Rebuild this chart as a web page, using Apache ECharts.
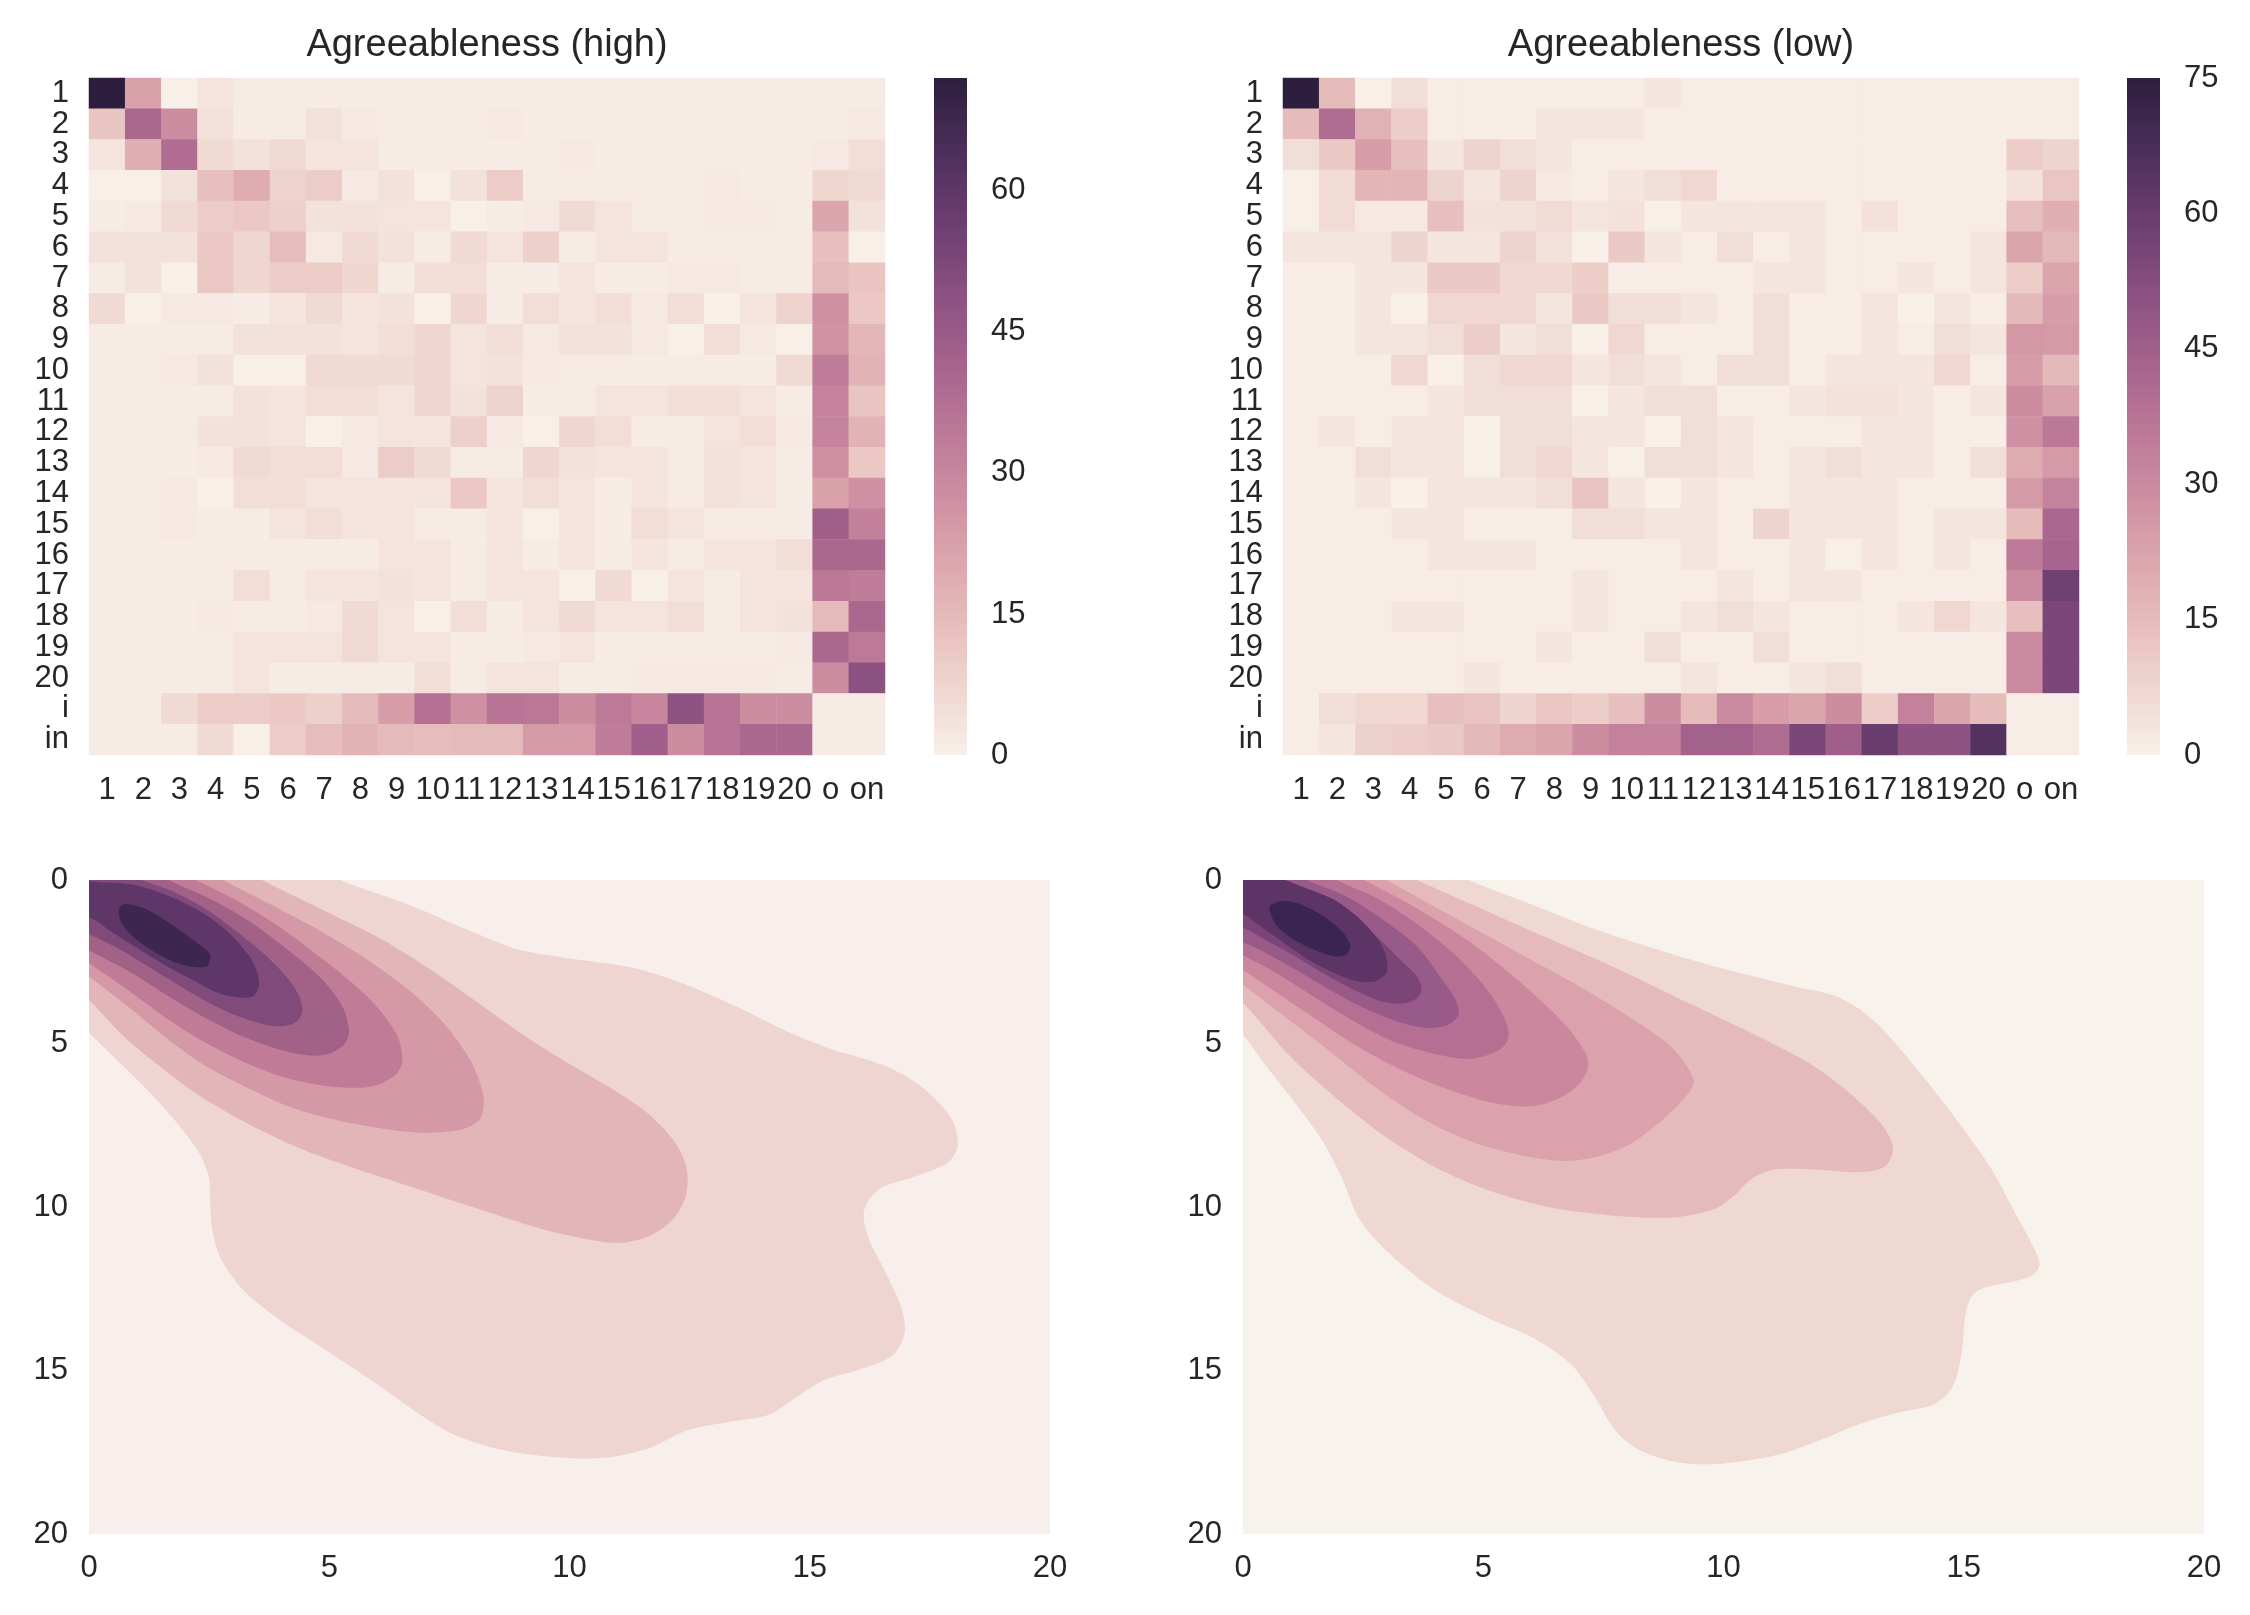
<!DOCTYPE html>
<html><head><meta charset="utf-8">
<script src="https://cdn.jsdelivr.net/npm/echarts@6/dist/echarts.min.js"></script>
<style>html,body{margin:0;padding:0;background:#fff}#c{width:2250px;height:1615px}</style>
</head><body><div id="c"></div>
<script>
// ---------- data ----------
const rowLabels = ['1','2','3','4','5','6','7','8','9','10','11','12','13','14','15','16','17','18','19','20','i','in'];
const colLabels = ['1','2','3','4','5','6','7','8','9','10','11','12','13','14','15','16','17','18','19','20','o','on'];
const titles = ['Agreeableness (high)', 'Agreeableness (low)'];

const highValues = [
 [72,22,0,3,1,1,1,1,1,1,1,1,1,1,1,1,1,1,1,1,1,1],
 [12,40,28,4,1,1,4,2,1,1,1,2,1,1,1,1,1,1,1,1,1,2],
 [3,18,38,6,4,6,3,3,1,1,1,1,1,2,1,1,1,1,1,1,2,5],
 [0,0,4,13,19,8,10,2,4,0,4,10,1,1,1,1,1,2,1,1,7,6],
 [1,2,6,10,11,9,4,4,3,3,0,1,2,6,3,1,1,2,2,1,21,4],
 [4,4,4,11,7,14,2,6,4,1,6,3,9,1,3,3,1,1,1,1,13,0],
 [1,4,0,11,7,10,10,7,1,5,5,1,1,3,1,1,2,2,1,1,15,12],
 [6,0,2,2,1,3,6,3,4,0,7,1,5,3,5,2,5,0,3,8,27,11],
 [1,1,1,1,4,4,4,3,5,7,3,5,2,4,4,2,0,5,2,0,26,16],
 [1,1,2,4,0,0,6,6,6,7,3,4,2,1,1,1,1,1,1,6,33,17],
 [1,1,1,1,4,3,5,5,3,7,4,8,1,1,3,3,5,5,3,1,31,12],
 [1,1,1,4,4,3,0,2,3,3,9,2,0,7,5,1,1,3,5,2,31,17],
 [1,1,1,2,6,5,5,2,10,6,1,1,7,4,3,3,1,4,3,1,27,11],
 [1,1,2,0,5,5,3,3,3,3,11,3,5,3,1,3,1,4,3,1,22,27],
 [1,1,2,1,1,3,5,3,3,1,1,3,0,3,1,5,3,1,1,1,43,32],
 [1,1,1,1,1,1,1,1,3,3,1,3,1,3,1,3,1,3,3,5,40,40],
 [1,1,1,1,5,1,3,3,4,3,1,3,3,0,6,0,3,1,3,3,35,33],
 [1,1,1,2,1,1,2,6,3,0,5,1,3,6,3,3,5,1,3,4,15,40],
 [1,1,1,1,3,3,3,6,3,3,1,1,2,3,1,1,1,1,1,2,40,34],
 [1,1,1,1,3,1,1,1,1,5,1,3,3,1,1,2,2,2,2,1,28,49],
 [1,1,6,10,10,11,9,15,23,37,27,36,35,28,34,30,48,36,28,28,1,1],
 [1,1,1,6,0,10,14,17,15,14,15,15,24,24,33,43,28,36,40,40,1,1]
];
const lowValues = [
 [75,15,0,5,1,1,1,1,1,1,3,1,1,1,1,1,1,1,1,1,1,1],
 [15,40,18,10,1,1,1,3,3,3,1,1,1,1,1,1,1,1,1,1,1,1],
 [5,11,24,14,3,8,5,3,1,1,1,1,1,1,1,1,1,1,1,1,10,8],
 [0,6,17,17,8,3,8,2,1,3,5,7,1,1,1,1,1,1,1,1,4,12],
 [0,6,2,2,14,4,4,6,3,4,0,3,3,3,3,1,4,1,1,1,14,19],
 [3,3,3,8,3,3,8,4,0,11,3,1,5,1,3,1,1,1,1,3,22,16],
 [1,1,3,3,11,11,7,7,10,1,1,1,1,3,3,1,1,3,1,3,10,22],
 [1,1,3,0,7,7,7,3,11,5,5,3,1,5,1,1,3,0,3,1,16,24],
 [1,1,3,3,5,10,3,5,0,7,1,1,1,5,1,1,3,1,5,3,26,25],
 [1,1,1,7,0,5,7,7,3,5,3,1,5,5,1,3,3,3,7,1,24,16],
 [1,1,1,1,3,5,5,5,0,3,5,5,1,1,3,4,4,3,1,3,29,23],
 [1,3,1,3,3,0,5,5,3,3,0,5,3,1,1,1,3,3,1,1,28,36],
 [1,1,5,3,3,0,5,7,3,0,5,5,3,1,3,5,3,3,1,5,20,25],
 [1,1,3,0,3,3,3,5,13,3,0,3,1,1,3,3,3,1,1,1,25,32],
 [1,1,1,3,3,1,1,1,5,5,3,3,1,8,3,3,3,1,3,3,15,42],
 [1,1,1,1,3,3,3,1,1,1,1,3,1,1,3,0,3,1,3,1,35,43],
 [1,1,1,1,1,1,1,1,3,1,1,1,3,1,3,3,1,1,1,1,30,58],
 [1,1,1,3,3,1,1,1,3,1,1,3,5,3,1,1,1,3,7,3,14,55],
 [1,1,1,1,1,1,1,3,1,1,5,1,1,5,1,1,1,1,1,1,30,55],
 [1,1,1,1,1,3,1,1,1,1,1,3,1,1,3,5,1,1,1,1,30,55],
 [1,5,7,7,14,13,8,12,10,14,29,15,30,24,22,29,10,33,22,15,1,1],
 [1,3,9,10,11,16,20,22,29,33,33,44,44,40,55,45,60,50,50,65,1,1]
];
const highMax = 72;
const lowMax = 75;
const colorbarStep = 15;
const kdeTicks = { min: 0, max: 20, step: 5 };

// KDE filled contour polygons (data coordinates, x right, y down), outermost first
const kdeHighContours = [
 [[-1,-1],[4.6,-0.5],[5.22,0],[6.58,0.71],[7.88,1.52],[8.92,2.12],[9.96,2.39],[11.26,2.66],[12.3,3.13],[13.47,3.87],[14.5,4.61],[15.42,5.15],[16.58,5.69],[17.36,6.36],[17.95,7.3],[18.08,8.1],[17.88,8.64],[17.23,9.05],[16.45,9.45],[16.13,10.12],[16.22,10.93],[16.58,12.0],[16.91,13.08],[16.97,13.88],[16.71,14.56],[16.06,14.96],[15.29,15.3],[14.64,15.9],[14.12,16.37],[13.34,16.57],[12.43,16.84],[11.65,17.38],[10.74,17.67],[9.7,17.65],[8.66,17.45],[7.62,16.98],[6.84,16.3],[5.94,15.36],[4.9,14.35],[3.99,13.48],[3.21,12.54],[2.75,11.6],[2.56,10.66],[2.52,9.72],[2.49,9.05],[2.3,8.37],[1.91,7.57],[1.26,6.49],[0.61,5.55],[0,4.68],[-0.6,3.9]],
 [[-1,-1],[3.0,-0.5],[3.6,0],[4.77,0.85],[6.06,1.79],[7.1,2.73],[8.14,3.8],[9.18,4.88],[10.22,5.82],[11.0,6.49],[11.65,7.16],[12.17,7.97],[12.43,8.78],[12.43,9.62],[12.17,10.35],[11.65,10.9],[11.0,11.1],[10.35,10.98],[9.44,10.68],[8.4,10.2],[7.36,9.7],[6.32,9.2],[5.29,8.7],[4.25,8.12],[3.21,7.38],[2.3,6.6],[1.52,5.75],[0.74,4.81],[0,3.67],[-0.6,2.9]],
 [[-1,-1],[2.2,-0.5],[2.79,0],[3.73,0.71],[4.77,1.52],[5.68,2.33],[6.58,3.27],[7.36,4.34],[7.95,5.55],[8.21,6.63],[8.14,7.3],[7.75,7.63],[6.97,7.73],[6.06,7.59],[5.03,7.3],[4.12,6.9],[3.21,6.29],[2.43,5.69],[1.65,4.88],[0.87,3.94],[0,2.95],[-0.6,2.3]],
 [[-1,-1],[1.6,-0.5],[2.22,0],[3.05,0.61],[3.95,1.42],[4.79,2.34],[5.48,3.15],[6.04,3.96],[6.42,4.78],[6.52,5.49],[6.42,5.89],[6.11,6.2],[5.69,6.35],[4.93,6.3],[4.09,6.05],[3.26,5.59],[2.43,4.98],[1.66,4.27],[0.9,3.46],[0,2.54],[-0.6,1.9]],
 [[-1,-1],[1.1,-0.5],[1.66,0],[2.57,0.61],[3.4,1.32],[4.23,2.24],[4.86,3.05],[5.27,3.86],[5.41,4.57],[5.34,4.98],[5.06,5.28],[4.65,5.37],[3.95,5.18],[3.19,4.78],[2.43,4.22],[1.66,3.56],[0.9,2.85],[0,2.15],[-0.6,1.6]],
 [[-1,-1],[0.6,-0.4],[1.11,0],[1.73,0.34],[2.43,0.89],[3.05,1.55],[3.61,2.22],[4.09,2.93],[4.37,3.54],[4.44,4.04],[4.3,4.35],[4.02,4.47],[3.61,4.4],[2.98,4.1],[2.36,3.65],[1.73,3.1],[1.18,2.6],[0.62,2.1],[0,1.65],[-0.6,1.2]],
 [[-0.6,0.1],[0.34,0.08],[0.97,0.16],[1.66,0.49],[2.36,1.0],[2.91,1.61],[3.33,2.32],[3.5,2.83],[3.54,3.23],[3.43,3.54],[3.19,3.6],[2.7,3.46],[2.15,3.05],[1.52,2.55],[0.97,2.05],[0.48,1.6],[0,1.15],[-0.6,1.1]],
 [[0.66,0.79],[0.83,0.74],[1.18,0.89],[1.66,1.3],[2.15,1.81],[2.5,2.22],[2.53,2.37],[2.46,2.62],[2.22,2.67],[1.8,2.52],[1.32,2.16],[0.9,1.71],[0.69,1.35],[0.62,1.05]]
];
const kdeLowContours = [
 [[-1,-1],[4.1,-0.5],[4.7,0],[5.94,0.71],[7.36,1.52],[8.92,2.26],[10.22,2.8],[11.52,3.27],[12.3,3.53],[12.82,3.94],[13.34,4.61],[14.12,5.95],[14.9,7.43],[15.55,8.78],[16.0,9.99],[16.39,11.06],[16.58,11.73],[16.45,12.07],[16.06,12.27],[15.42,12.47],[15.16,12.74],[15.03,13.35],[14.96,14.42],[14.77,15.5],[14.38,16.03],[13.6,16.3],[12.82,16.64],[12.04,17.11],[11.13,17.58],[9.96,17.85],[9.05,17.81],[8.27,17.45],[7.75,16.84],[7.36,15.9],[6.84,14.83],[6.06,14.02],[5.03,13.35],[3.99,12.54],[3.08,11.47],[2.43,10.39],[2.04,9.05],[1.65,7.97],[1.13,6.9],[0.48,5.69],[0,4.74],[-0.6,3.9]],
 [[-1,-1],[3.0,-0.5],[3.62,0],[4.77,0.75],[6.06,1.6],[7.62,2.6],[9.18,3.7],[10.61,4.7],[11.78,5.6],[12.69,6.6],[13.34,7.57],[13.53,8.24],[13.34,8.78],[12.82,8.94],[12.04,8.87],[11.13,8.84],[10.61,9.11],[10.22,9.65],[9.83,10.05],[8.92,10.32],[7.62,10.25],[6.32,9.99],[5.03,9.45],[3.99,8.78],[2.95,7.84],[1.91,6.63],[1.0,5.42],[0,3.75],[-0.6,3.0]],
 [[-1,-1],[2.4,-0.5],[2.99,0],[4.1,0.91],[5.49,2.03],[6.88,3.15],[8.13,4.27],[8.97,5.18],[9.38,6.1],[9.28,6.5],[8.9,7.11],[8.41,7.72],[7.99,8.13],[7.44,8.43],[6.74,8.59],[5.84,8.43],[4.8,8.03],[3.76,7.32],[2.72,6.3],[1.67,5.08],[0.77,4.07],[0,3.2],[-0.6,2.6]],
 [[-1,-1],[1.9,-0.5],[2.51,0],[3.55,0.81],[4.66,1.83],[5.63,2.95],[6.47,4.07],[6.95,4.88],[7.19,5.59],[7.02,6.2],[6.6,6.66],[6.05,6.91],[5.35,6.86],[4.45,6.5],[3.41,5.89],[2.37,5.08],[1.33,4.07],[0,2.75],[-0.6,2.2]],
 [[-1,-1],[1.4,-0.5],[1.95,0],[2.85,0.61],[3.69,1.42],[4.45,2.34],[5.08,3.35],[5.42,4.17],[5.53,4.67],[5.46,5.03],[5.22,5.28],[4.73,5.47],[4.04,5.34],[3.2,4.98],[2.37,4.37],[1.47,3.56],[0.63,2.79],[0,2.3],[-0.6,1.8]],
 [[-1,-1],[0.8,-0.5],[1.33,0],[2.16,0.51],[2.92,1.22],[3.62,2.03],[4.1,2.95],[4.42,3.66],[4.49,4.07],[4.38,4.32],[4.17,4.47],[3.76,4.52],[3.2,4.32],[2.51,3.91],[1.74,3.3],[0.98,2.64],[0.35,2.13],[0,1.9],[-0.6,1.5]],
 [[-1,-1],[0.3,-0.5],[0.77,0],[1.47,0.41],[2.16,1.02],[2.78,1.73],[3.27,2.44],[3.62,2.95],[3.72,3.35],[3.62,3.61],[3.34,3.78],[2.85,3.7],[2.3,3.35],[1.67,2.85],[1.05,2.3],[0.49,1.85],[0,1.45],[-0.6,1.1]],
 [[-0.6,-0.6],[0.5,-0.2],[1.19,0.18],[1.88,0.59],[2.44,1.2],[2.85,1.91],[2.99,2.42],[2.99,2.83],[2.78,3.08],[2.44,3.11],[1.95,2.88],[1.4,2.47],[0.84,1.91],[0.35,1.4],[0,1.05],[-0.6,0.9]],
 [[0.56,0.79],[0.84,0.64],[1.19,0.74],[1.67,1.1],[2.08,1.61],[2.23,2.01],[2.16,2.27],[1.95,2.34],[1.53,2.16],[1.05,1.81],[0.7,1.4],[0.58,1.05]]
];

// ---------- styles ----------
const FONT = '"Liberation Sans", Arial, sans-serif';
const TXT = '#262626';
const kdeHighColors = ['#efd5d1','#e2b5b8','#d498a6','#c07b96','#a26287','#804b7b','#5e3768','#3d2650'];
const kdeLowColors = ['#efd7d2','#e5babd','#dba1ad','#ca879e','#b46f92','#985a88','#7b4577','#5c3566','#3a2550'];

function cubehelix(x) {
  const s = 0, r = 0.4, h = 0.8;
  const a = h * x * (1 - x) / 2, phi = 2 * Math.PI * (s / 3 + r * x);
  const c = Math.cos(phi), sn = Math.sin(phi);
  const ch = v => Math.round(Math.max(0, Math.min(1, v)) * 255).toString(16).padStart(2, '0');
  return '#' + ch(x + a * (-0.14861 * c + 1.78277 * sn)) + ch(x + a * (-0.29227 * c - 0.90649 * sn)) + ch(x + a * (1.97294 * c));
}
const palette = [];
for (let i = 0; i <= 20; i++) palette.push(cubehelix(0.945 + (0.15 - 0.945) * i / 20));

function toCells(m) {
  const out = [];
  m.forEach((row, r) => row.forEach((v, c) => out.push([c, r, v])));
  return out;
}

const noLine = { axisLine: { show: false }, axisTick: { show: false }, splitLine: { show: false } };
const lbl = (extra) => Object.assign({ color: TXT, fontSize: 31, fontFamily: FONT }, extra || {});

function heatAxes(gi) {
  return {
    x: Object.assign({ type: 'category', gridIndex: gi, data: colLabels, position: 'bottom',
      axisLabel: lbl({ interval: 0, margin: 20 }) }, noLine),
    y: Object.assign({ type: 'category', gridIndex: gi, data: rowLabels, inverse: true,
      axisLabel: lbl({ interval: 0, margin: 20 }) }, noLine)
  };
}
function cbAxes(gi, max, showMax) {
  return {
    x: { type: 'value', gridIndex: gi, min: 0, max: 1, show: false },
    y: Object.assign({ type: 'value', gridIndex: gi, min: 0, max: max, interval: colorbarStep, position: 'right',
      axisLabel: lbl({ margin: 24, showMaxLabel: showMax }) }, noLine)
  };
}
function kdeAxes(gi) {
  return {
    x: Object.assign({ type: 'value', gridIndex: gi, min: kdeTicks.min, max: kdeTicks.max, interval: kdeTicks.step,
      axisLabel: lbl({ margin: 19 }) }, noLine),
    y: Object.assign({ type: 'value', gridIndex: gi, min: kdeTicks.min, max: kdeTicks.max, interval: kdeTicks.step, inverse: true,
      axisLabel: lbl({ margin: 21 }) }, noLine)
  };
}
const A = [heatAxes(0), cbAxes(1, highMax, false), heatAxes(2), cbAxes(3, lowMax, true), kdeAxes(4), kdeAxes(5)];

function colorbarSeries(axisIdx, max) {
  return {
    type: 'custom', xAxisIndex: axisIdx, yAxisIndex: axisIdx, silent: true,
    encode: { x: 0, y: [1, 2] },
    data: [[0, 0, max]],
    renderItem: function (params, api) {
      const lo = api.coord([0, api.value(1)]);
      const hi = api.coord([1, api.value(2)]);
      return { type: 'rect', shape: { x: lo[0], y: hi[1], width: hi[0] - lo[0], height: lo[1] - hi[1] },
        style: { fill: { type: 'linear', x: 0, y: 1, x2: 0, y2: 0,
          colorStops: palette.map((c, i) => ({ offset: i / (palette.length - 1), color: c })) } } };
    }
  };
}
function kdeSeries(axisIdx, contours, colors) {
  return {
    type: 'custom', xAxisIndex: axisIdx, yAxisIndex: axisIdx, silent: true, clip: true,
    encode: { x: 0, y: 1 },
    data: contours.map((p, i) => [0, 0, i]),
    renderItem: function (params, api) {
      const i = api.value(2);
      const cs = params.coordSys;
      return { type: 'polygon',
        shape: { points: contours[i].map(p => api.coord(p)), smooth: 0.3 },
        style: { fill: colors[i] },
        clipPath: { type: 'rect', shape: { x: cs.x, y: cs.y, width: cs.width, height: cs.height } } };
    }
  };
}

const titleStyle = { fontSize: 38, fontWeight: 'normal', color: TXT, fontFamily: FONT };
const option = {
  backgroundColor: '#ffffff',
  animation: false,
  title: [
    { text: titles[0], left: 487, top: 27, textAlign: 'center', padding: 0, textStyle: titleStyle },
    { text: titles[1], left: 1681, top: 27, textAlign: 'center', padding: 0, textStyle: titleStyle }
  ],
  grid: [
    { left: 89, top: 78, width: 796, height: 677 },
    { left: 934, top: 78, width: 33, height: 677 },
    { left: 1283, top: 78, width: 796, height: 677 },
    { left: 2127, top: 78, width: 33, height: 677 },
    { left: 89, top: 880, width: 961, height: 654, show: true, backgroundColor: '#f8efec', borderWidth: 0 },
    { left: 1243, top: 880, width: 961, height: 654, show: true, backgroundColor: '#f7f2ec', borderWidth: 0 }
  ],
  xAxis: A.map(a => a.x),
  yAxis: A.map(a => a.y),
  visualMap: [
    { type: 'continuous', show: false, min: 0, max: highMax, dimension: 2, seriesIndex: 0, inRange: { color: palette } },
    { type: 'continuous', show: false, min: 0, max: lowMax, dimension: 2, seriesIndex: 2, inRange: { color: palette } }
  ],
  series: [
    { type: 'heatmap', xAxisIndex: 0, yAxisIndex: 0, data: toCells(highValues), itemStyle: { borderWidth: 0 } },
    colorbarSeries(1, highMax),
    { type: 'heatmap', xAxisIndex: 2, yAxisIndex: 2, data: toCells(lowValues), itemStyle: { borderWidth: 0 } },
    colorbarSeries(3, lowMax),
    kdeSeries(4, kdeHighContours, kdeHighColors),
    kdeSeries(5, kdeLowContours, kdeLowColors)
  ]
};
const chart = echarts.init(document.getElementById('c'), null, { renderer: 'canvas' });
chart.setOption(option);
</script>
</body></html>
